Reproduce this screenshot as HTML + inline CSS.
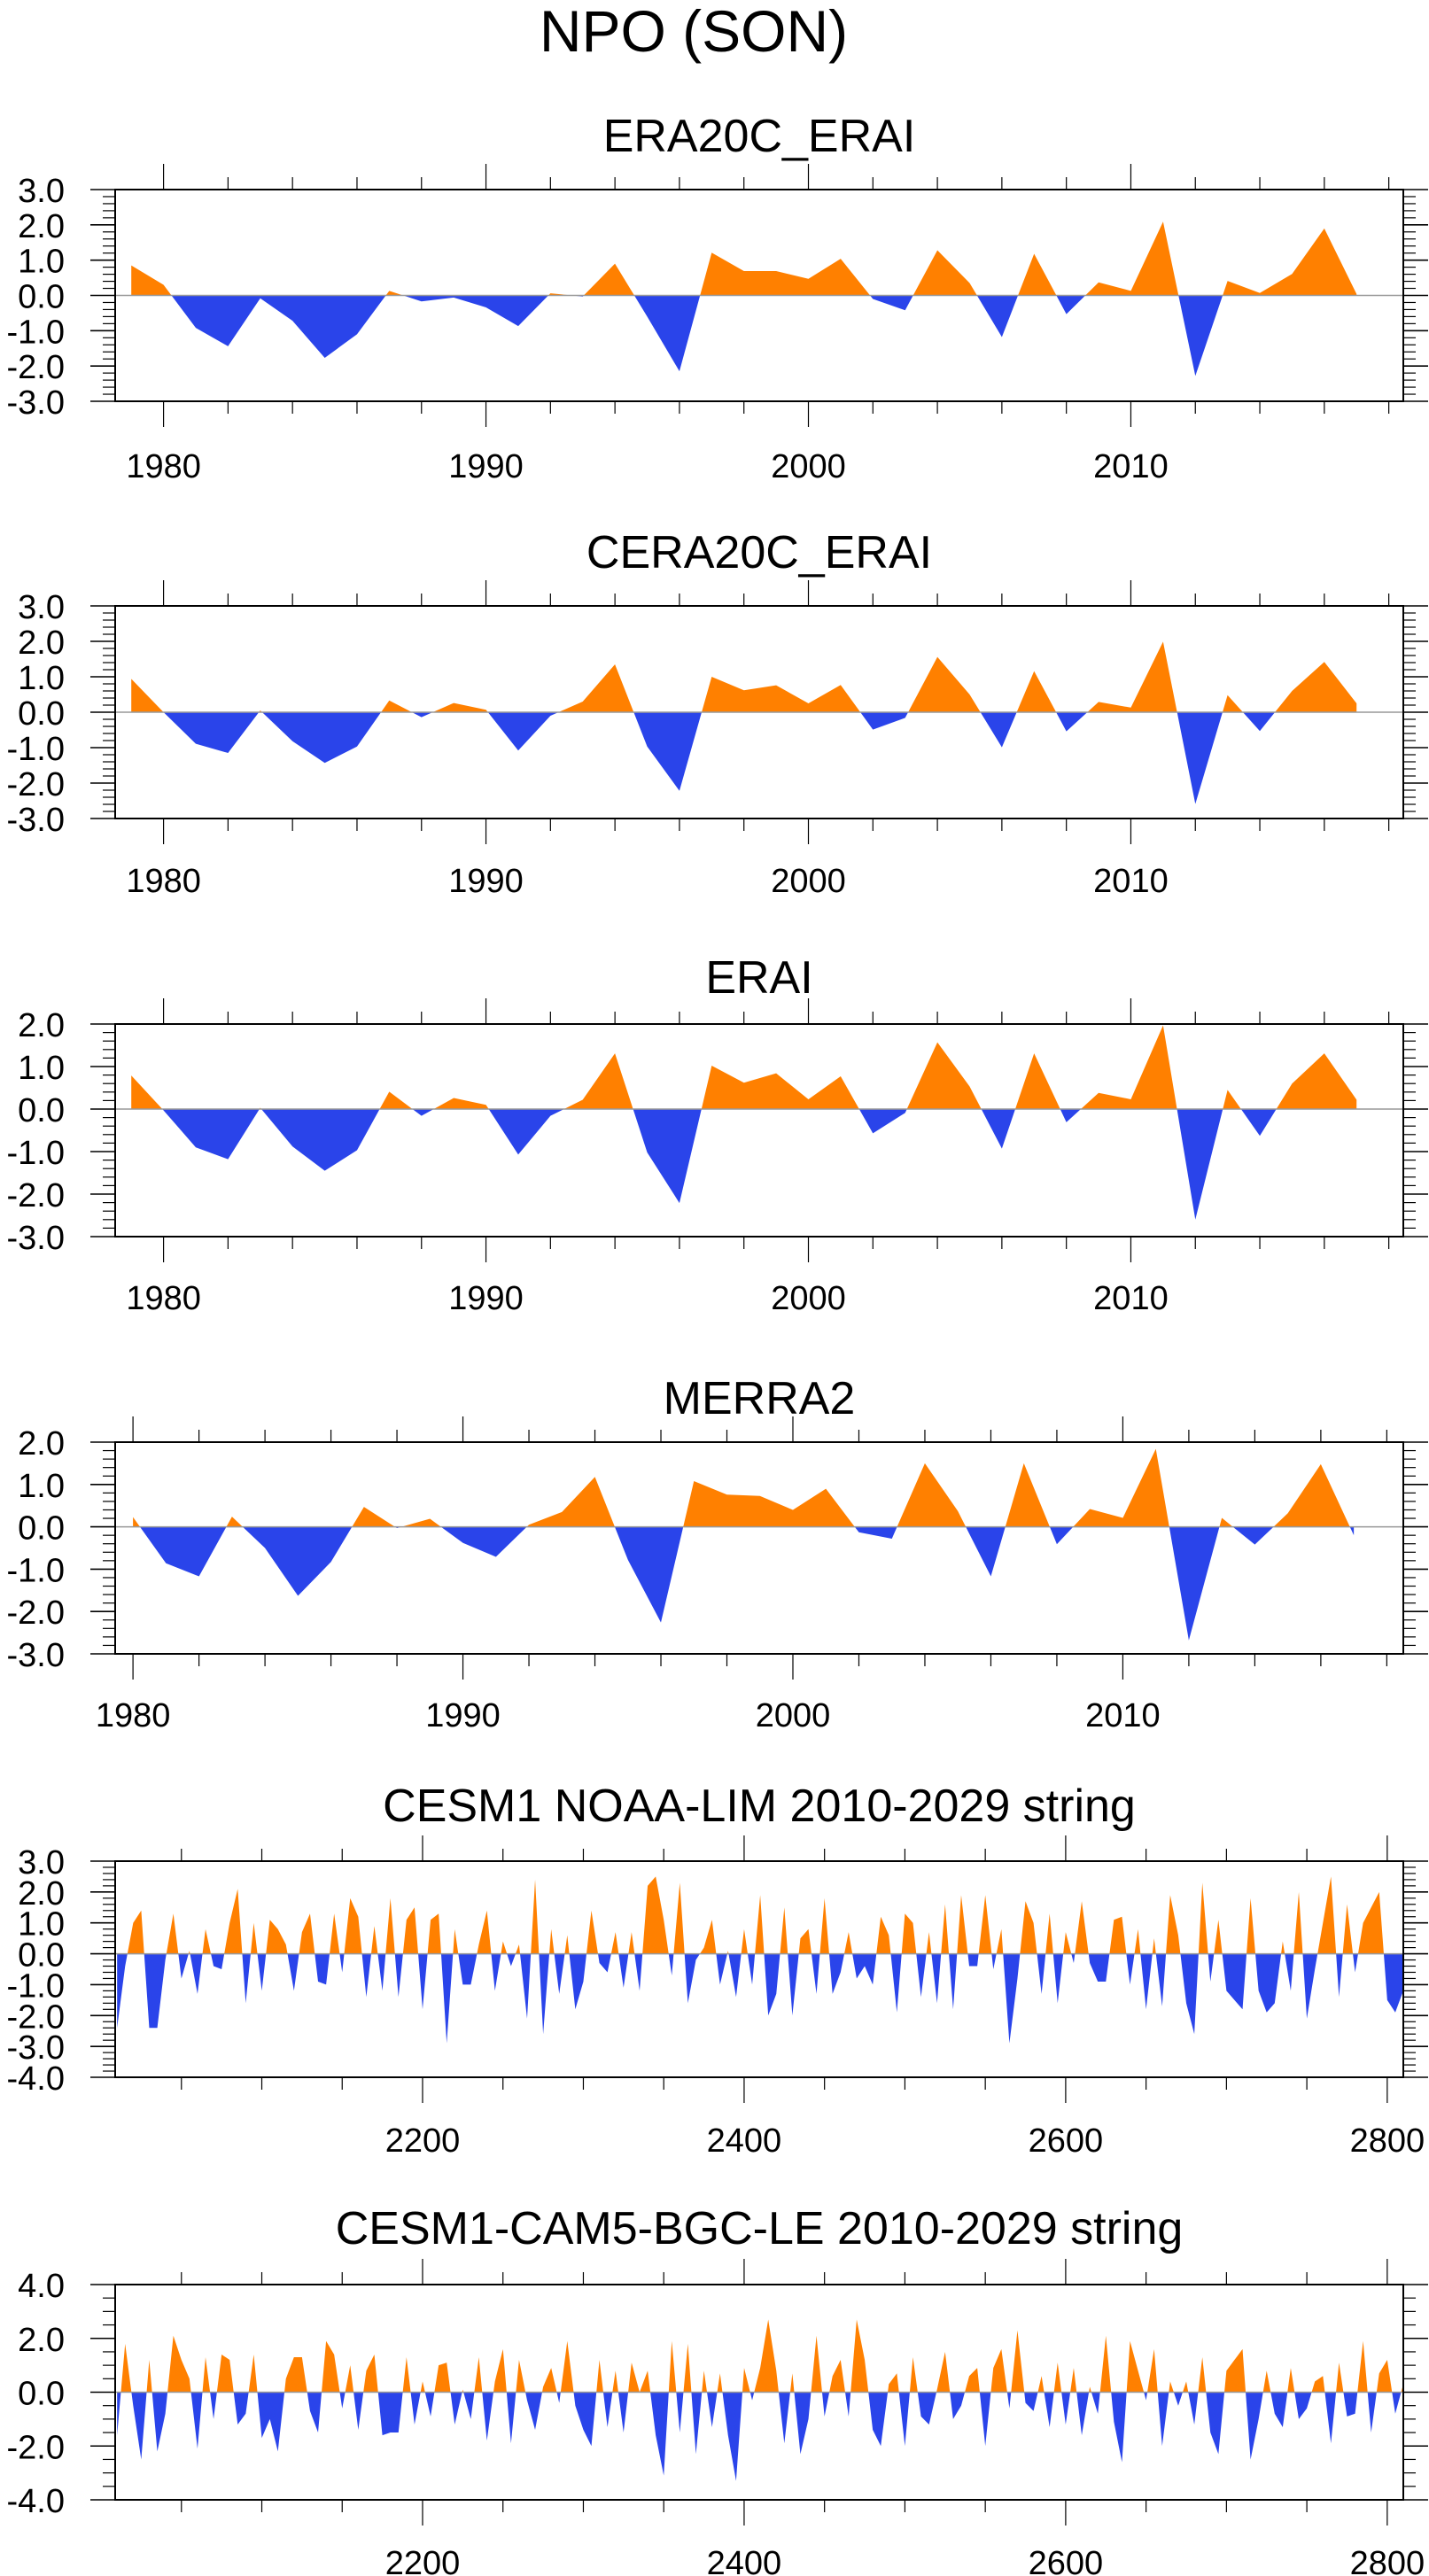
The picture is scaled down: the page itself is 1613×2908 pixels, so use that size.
<!DOCTYPE html>
<html><head><meta charset="utf-8"><style>
html,body{margin:0;padding:0;background:#fff;}
svg{display:block;font-family:"Liberation Sans",Arial,sans-serif;}
</style></head><body>
<svg id="fig" width="1613" height="2908" viewBox="0 0 1613 2908" xmlns="http://www.w3.org/2000/svg">
<text x="783" y="58" font-size="66" text-anchor="middle">NPO (SON)</text>
</svg>
<script>
const yearsA = [1979,1980,1981,1982,1983,1984,1985,1986,1987,1988,1989,1990,1991,1992,1993,1994,1995,1996,1997,1998,1999,2000,2001,2002,2003,2004,2005,2006,2007,2008,2009,2010,2011,2012,2013,2014,2015,2016,2017];
const era20c = [0.85,0.3,-0.92,-1.44,-0.08,-0.72,-1.77,-1.1,0.13,-0.17,-0.06,-0.34,-0.87,0.06,-0.03,0.9,-0.6,-2.15,1.21,0.69,0.69,0.47,1.04,-0.1,-0.42,1.28,0.35,-1.18,1.18,-0.53,0.37,0.13,2.09,-2.28,0.41,0.07,0.61,1.9,0.04];
const cera20c = [0.94,0,-0.89,-1.15,0.05,-0.82,-1.43,-0.97,0.33,-0.14,0.26,0.07,-1.08,-0.1,0.3,1.35,-0.97,-2.22,1.0,0.62,0.76,0.25,0.77,-0.49,-0.16,1.56,0.5,-0.99,1.16,-0.54,0.29,0.13,1.99,-2.59,0.48,-0.53,0.6,1.42,0.25];
const erai = [0.79,-0.03,-0.9,-1.18,0.03,-0.88,-1.45,-0.97,0.41,-0.16,0.26,0.1,-1.07,-0.16,0.22,1.31,-1.02,-2.21,1.02,0.62,0.84,0.23,0.77,-0.57,-0.09,1.57,0.53,-0.93,1.31,-0.31,0.38,0.23,1.97,-2.6,0.45,-0.63,0.6,1.31,0.22];
const yearsM = [1980,1981,1982,1983,1984,1985,1986,1987,1988,1989,1990,1991,1992,1993,1994,1995,1996,1997,1998,1999,2000,2001,2002,2003,2004,2005,2006,2007,2008,2009,2010,2011,2012,2013,2014,2015,2016,2017];
const merra2 = [0.23,-0.86,-1.17,0.24,-0.5,-1.63,-0.83,0.47,-0.03,0.19,-0.38,-0.71,0.05,0.35,1.18,-0.78,-2.26,1.08,0.76,0.73,0.4,0.9,-0.13,-0.28,1.5,0.37,-1.17,1.5,-0.41,0.42,0.21,1.84,-2.68,0.21,-0.42,0.32,1.48,-0.2];
const limStart = 2010, limStep = 5;
const limVals = [-2.4,-0.4,1.0,1.4,-2.4,-2.4,-0.2,1.3,-0.8,0.1,-1.3,0.8,-0.4,-0.5,1.0,2.1,-1.6,1.0,-1.2,1.1,0.8,0.3,-1.2,0.7,1.3,-0.9,-1.0,1.3,-0.6,1.8,1.2,-1.4,0.9,-1.2,1.8,-1.4,1.1,1.5,-1.8,1.1,1.3,-2.9,0.8,-1.0,-1.0,0.3,1.4,-1.2,0.4,-0.4,0.3,-2.1,2.4,-2.6,0.8,-1.3,0.6,-1.8,-0.9,1.4,-0.3,-0.6,0.7,-1.1,0.7,-1.2,2.2,2.5,1.1,-0.7,2.3,-1.6,-0.2,0.2,1.1,-1.0,0.1,-1.4,0.8,-1.0,1.9,
-2.0,-1.3,1.5,-2.0,0.5,0.8,-1.3,1.8,-1.3,-0.6,0.7,-0.8,-0.4,-1.0,1.2,0.6,-1.9,1.3,1.0,-1.4,0.7,-1.6,1.6,-1.8,1.9,-0.4,-0.4,1.9,-0.5,0.8,-2.9,-0.8,1.7,1.0,-1.3,1.3,-1.6,0.7,-0.3,1.7,-0.3,-0.9,-0.9,1.1,1.2,-1.0,0.8,-1.8,0.5,-1.7,1.9,0.6,-1.6,-2.6,2.3,-0.9,1.1,-1.2,-1.5,-1.8,1.8,-1.2,-1.9,-1.6,0.4,-1.2,2.0,-2.1,-0.5,1.0,2.5,-1.4,1.6,-0.6,1.0,1.5,2.0,-1.5,-1.9,-1.2];
const bgcVals = [-1.6,1.8,-0.5,-2.5,1.2,-2.2,-0.8,2.1,1.2,0.5,-2.1,1.3,-1.0,1.4,1.2,-1.2,-0.8,1.4,-1.7,-1.0,-2.2,0.5,1.3,1.3,-0.7,-1.5,1.9,1.4,-0.6,1.0,-1.4,0.8,1.4,-1.6,-1.5,-1.5,1.3,-1.2,0.4,-0.9,1.0,1.1,-1.2,0.1,-1.0,1.3,-1.8,0.4,1.6,-1.9,1.2,-0.3,-1.4,0.2,0.9,-0.4,1.9,-0.5,-1.4,-2.0,1.2,-1.3,0.8,-1.5,1.1,0.0,0.8,-1.6,-3.1,1.9,-1.5,1.8,-2.3,0.8,-1.3,0.7,-1.6,-3.3,0.9,-0.3,0.9,
2.7,0.8,-1.9,0.7,-2.3,-1.0,2.1,-0.9,0.6,1.2,-0.9,2.7,1.2,-1.4,-2.0,0.3,0.7,-2.0,1.3,-0.9,-1.2,0.1,1.5,-1.0,-0.5,0.6,0.9,-2.0,0.9,1.6,-0.6,2.3,-0.4,-0.7,0.6,-1.3,1.1,-1.2,0.9,-1.6,0.2,-0.8,2.1,-1.1,-2.6,1.9,0.8,-0.3,1.6,-2.0,0.4,-0.5,0.4,-1.2,1.3,-1.5,-2.3,0.8,1.2,1.6,-2.5,-1.0,0.8,-0.8,-1.3,0.9,-1.0,-0.6,0.4,0.6,-1.9,1.1,-0.9,-0.8,1.9,-1.5,0.7,1.2,-0.8,0.3];
const yearTicksA = [1980,1990,2000,2010];
const longTicks = [2200,2400,2600,2800];

const svg = document.getElementById('fig');
const NS = 'http://www.w3.org/2000/svg';
function mk(tag, attrs, parent){const e=document.createElementNS(NS,tag);for(const k in attrs)e.setAttribute(k,attrs[k]);(parent||svg).appendChild(e);return e;}

const L=130,R=1584;
function panel(cfg){
  const g=mk('g',{});
  
  
  const top=cfg.top,bot=cfg.top+cfg.h;
  const sx=v=>L+(v-cfg.xmin)/(cfg.xmax-cfg.xmin)*(R-L);
  const sy=v=>top+(cfg.ymax-v)/(cfg.ymax-cfg.ymin)*(bot-top);
  const t=mk('text',{x:857,y:cfg.titleY+18,'font-size':52,'text-anchor':'middle'},g);
  t.textContent=cfg.title;
  
  
  const pts=cfg.xs.map((x,i)=>[x,cfg.ys[i]]);
  const full=[];
  for(let i=0;i<pts.length;i++){
    full.push(pts[i]);
    if(i<pts.length-1){const [x1,y1]=pts[i],[x2,y2]=pts[i+1];
      if(y1*y2<0){const xc=x1+(x2-x1)*(y1/(y1-y2));full.push([xc,0]);}}
  }
  const x0=full[0][0],xn=full[full.length-1][0];
  let pos='M'+sx(x0)+','+sy(0), neg=pos;
  full.forEach(p=>{pos+=' L'+sx(p[0]).toFixed(2)+','+sy(Math.max(p[1],0)).toFixed(2);neg+=' L'+sx(p[0]).toFixed(2)+','+sy(Math.min(p[1],0)).toFixed(2);});
  pos+=' L'+sx(xn)+','+sy(0)+' Z';neg+=' L'+sx(xn)+','+sy(0)+' Z';
  const pp=mk('path',{d:pos,fill:'#ff8000'},g);
  
  
  const np=mk('path',{d:neg,fill:'#2a44ea'},g);
  
  
  const zl=mk('line',{x1:L,x2:R,y1:sy(0),y2:sy(0),stroke:'#999','stroke-width':1.5},g);
  
  
  const fr=mk('rect',{x:L,y:top,width:R-L,height:bot-top,fill:'none',stroke:'#000','stroke-width':2},g);
  
  
  const eps=1e-6;
  for(let v=cfg.ymin;v<=cfg.ymax+eps;v+=cfg.yminor){
    const major=Math.abs(Math.round(v/cfg.ymajor)*cfg.ymajor-v)<1e-6;
    const len=major?28:14,y=sy(v);
    mk('line',{x1:L-len,x2:L,y1:y,y2:y,stroke:'#000','stroke-width':major?1.6:1.2},g);
    mk('line',{x1:R,x2:R+len,y1:y,y2:y,stroke:'#000','stroke-width':major?1.6:1.2},g);
    if(major){const lt=mk('text',{x:73,y:y+14,'font-size':38,'text-anchor':'end'},g);
      lt.textContent=(Math.abs(v)<1e-9?0:v).toFixed(1);
      
      }
  }
  const start=Math.ceil(cfg.xmin/cfg.xminor)*cfg.xminor;
  for(let v=start;v<=cfg.xmax;v+=cfg.xminor){
    const major=(v%cfg.xmajor)===0;const len=major?29:14,x=sx(v);
    mk('line',{x1:x,x2:x,y1:top-len,y2:top,stroke:'#000','stroke-width':1.2},g);
    mk('line',{x1:x,x2:x,y1:bot,y2:bot+len,stroke:'#000','stroke-width':1.2},g);
  }
  cfg.labels.forEach(v=>{const lt=mk('text',{x:sx(v),y:cfg.labelY+14,'font-size':38,'text-anchor':'middle'},g);
    lt.textContent=v;
    
    });
}
const limYears=limVals.map((v,i)=>limStart+i*limStep);
const bgcYears=bgcVals.map((v,i)=>limStart+i*limStep);
panel({name:'era20c-erai',title:'ERA20C_ERAI',titleY:153,top:214,h:239,xmin:1978.5,xmax:2018.45,ymin:-3,ymax:3,ymajor:1,yminor:0.2,xmajor:10,xminor:2,xs:yearsA,ys:era20c,labels:yearTicksA,labelY:525});
panel({name:'cera20c-erai',title:'CERA20C_ERAI',titleY:623,top:684,h:240,xmin:1978.5,xmax:2018.45,ymin:-3,ymax:3,ymajor:1,yminor:0.2,xmajor:10,xminor:2,xs:yearsA,ys:cera20c,labels:yearTicksA,labelY:993});
panel({name:'erai',title:'ERAI',titleY:1103,top:1156,h:240,xmin:1978.5,xmax:2018.45,ymin:-3,ymax:2,ymajor:1,yminor:0.2,xmajor:10,xminor:2,xs:yearsA,ys:erai,labels:yearTicksA,labelY:1464});
panel({name:'merra2',title:'MERRA2',titleY:1578,top:1628,h:239,xmin:1979.46,xmax:2018.5,ymin:-3,ymax:2,ymajor:1,yminor:0.2,xmajor:10,xminor:2,xs:yearsM,ys:merra2,labels:yearTicksA,labelY:1935});
panel({name:'cesm1-noaa-lim',title:'CESM1 NOAA-LIM 2010-2029 string',titleY:2038,top:2101,h:244,xmin:2008.8,xmax:2810,ymin:-4,ymax:3,ymajor:1,yminor:0.2,xmajor:200,xminor:50,xs:limYears,ys:limVals,labels:longTicks,labelY:2415});
panel({name:'cesm1-cam5-bgc-le',title:'CESM1-CAM5-BGC-LE 2010-2029 string',titleY:2515,top:2579,h:243,xmin:2008.8,xmax:2810,ymin:-4,ymax:4,ymajor:2,yminor:0.5,xmajor:200,xminor:50,xs:bgcYears,ys:bgcVals,labels:longTicks,labelY:2892});
</script>
</body></html>
